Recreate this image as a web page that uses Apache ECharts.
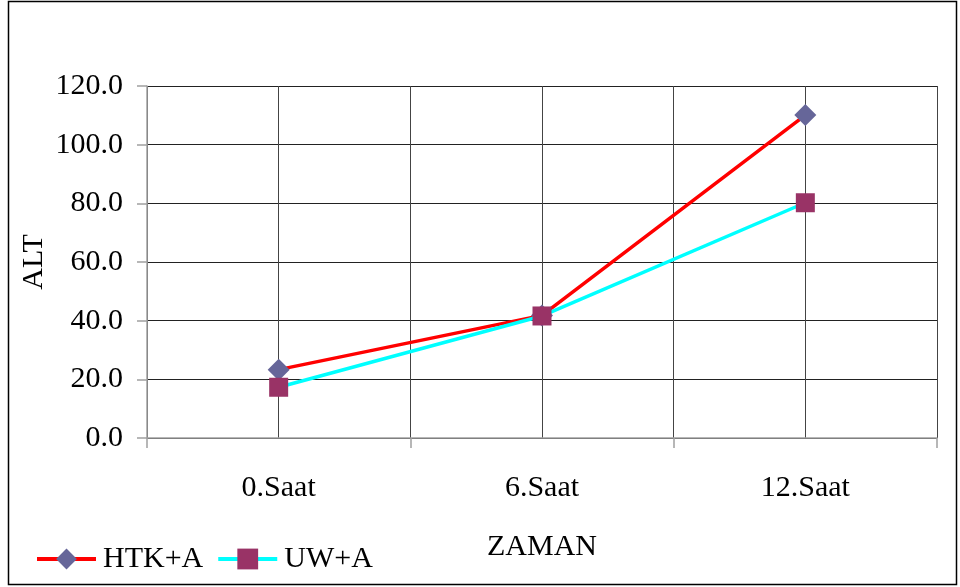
<!DOCTYPE html>
<html>
<head>
<meta charset="utf-8">
<script src="https://cdn.jsdelivr.net/npm/echarts@6/dist/echarts.min.js"></script>
<style>
  html, body { margin: 0; padding: 0; background: #fff; }
  #chart { width: 960px; height: 587px; }
</style>
</head>
<body>
<div id="chart"></div>
<script>
// Hours after treatment
const categories = ['0.Saat', '6.Saat', '12.Saat'];
// ALT levels per group
const htkA = [23.3, 41.8, 110.1];
const uwA = [17.3, 41.6, 80.2];
const seriesNames = ['HTK+A', 'UW+A'];
// Half-step positions used only for the vertical grid lines
const gridSteps = ['', '', '', '', '', ''];

const FONT = '"Liberation Serif", "Times New Roman", serif';
const FS = 30;

const chart = echarts.init(document.getElementById('chart'), null, { renderer: 'canvas' });

chart.setOption({
  backgroundColor: '#ffffff',
  animation: false,
  textStyle: { fontFamily: FONT },
  grid: { left: 147, right: 23, top: 86, bottom: 149 },
  graphic: [{
    type: 'rect',
    shape: { x: 8.5, y: 1.5, width: 948, height: 583 },
    style: { fill: 'none', stroke: '#000', lineWidth: 1.5 },
    z: 0
  }],
  legend: {
    left: 35,
    top: 544,
    padding: 0,
    itemWidth: 59,
    itemHeight: 26,
    itemGap: 13,
    lineStyle: { width: 4 },
    textStyle: { fontFamily: FONT, fontSize: FS, color: '#000', padding: [0, 0, 0, 2] },
    data: seriesNames
  },
  xAxis: [{
    type: 'category',
    data: categories,
    boundaryGap: true,
    name: 'ZAMAN',
    nameLocation: 'middle',
    nameGap: 94,
    nameMoveOverlap: false,
    nameTextStyle: { fontFamily: FONT, fontSize: FS, color: '#000' },
    axisLine: { lineStyle: { color: '#a0a0a0', width: 1.5 } },
    axisTick: { show: true, length: 10, lineStyle: { color: '#a0a0a0', width: 1.5 } },
    axisLabel: { fontFamily: FONT, fontSize: FS, color: '#000', margin: 35 },
    splitLine: { show: false }
  }, {
    type: 'category',
    data: gridSteps,
    boundaryGap: true,
    position: 'bottom',
    axisLine: { show: false },
    axisTick: { show: false },
    axisLabel: { show: false },
    splitLine: { show: true, interval: 0, lineStyle: { color: '#444', width: 1 } }
  }],
  yAxis: {
    type: 'value',
    min: 0,
    max: 120,
    interval: 20,
    name: 'ALT',
    nameLocation: 'middle',
    nameGap: 98,
    nameRotate: 90,
    nameMoveOverlap: false,
    nameTextStyle: { fontFamily: FONT, fontSize: FS, color: '#000' },
    axisLine: { show: true, lineStyle: { color: '#a0a0a0', width: 1.5 } },
    axisTick: { show: true, length: 10, lineStyle: { color: '#a0a0a0', width: 1.5 } },
    axisLabel: {
      fontFamily: FONT, fontSize: FS, color: '#000', margin: 24,
      formatter: v => v.toFixed(1)
    },
    splitLine: { show: true, lineStyle: { color: '#222', width: 1 } }
  },
  series: [{
    name: seriesNames[0],
    type: 'line',
    xAxisIndex: 0,
    data: htkA,
    symbol: 'diamond',
    symbolSize: 22,
    lineStyle: { color: '#ff0000', width: 3.5 },
    itemStyle: { color: '#666699' },
    z: 3
  }, {
    name: seriesNames[1],
    type: 'line',
    xAxisIndex: 0,
    data: uwA,
    symbol: 'rect',
    symbolSize: 19,
    lineStyle: { color: '#00ffff', width: 3.5 },
    itemStyle: { color: '#993366' },
    z: 4
  }]
});
</script>
</body>
</html>
